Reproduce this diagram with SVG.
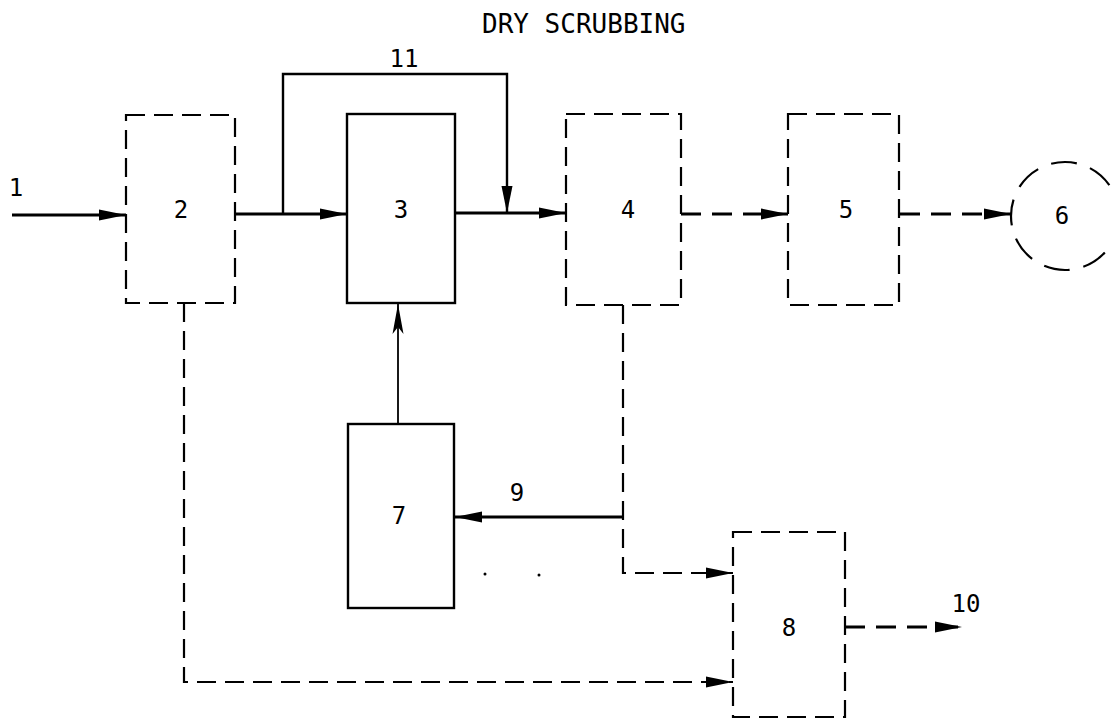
<svg xmlns="http://www.w3.org/2000/svg" width="1112" height="720" viewBox="0 0 1112 720">
<style>
.solid{fill:none;stroke:#000;stroke-width:2.4}
.dash{fill:none;stroke:#000;stroke-width:2.2;stroke-dasharray:19 9}
.flow{fill:none;stroke:#000;stroke-width:3.2}
.flowd{fill:none;stroke:#000;stroke-width:2.8;stroke-dasharray:20 11}
.thin{fill:none;stroke:#000;stroke-width:1.8}
.lbl{font-family:"DejaVu Sans Mono","Liberation Mono",monospace;font-size:24px;fill:#000;text-anchor:middle}
.title{font-family:"DejaVu Sans Mono","Liberation Mono",monospace;font-size:26px;fill:#000}
</style>
<defs>
<marker id="ah" markerUnits="userSpaceOnUse" markerWidth="30" markerHeight="14" refX="27" refY="6" orient="auto">
<path d="M0,0.5 L27,6 L0,11.5 Z" fill="#000"/>
</marker>
<marker id="ah2" markerUnits="userSpaceOnUse" markerWidth="34" markerHeight="14" refX="30" refY="6" orient="auto">
<path d="M0,0.5 L30,6 L0,11.5 L7,6 Z" fill="#000"/>
</marker>
</defs>
<rect width="1112" height="720" fill="#fff"/>
<text class="title" x="482" y="33">DRY SCRUBBING</text>
<g id="connectors">
<line class="flow" x1="12" y1="215" x2="126" y2="215" marker-end="url(#ah)"/>
<text class="lbl" x="16" y="196">1</text>
<line class="flow" x1="235" y1="214" x2="347" y2="214" marker-end="url(#ah)"/>
<polyline class="solid" points="283,214 283,74 507,74 507,213" marker-end="url(#ah)"/>
<text class="lbl" x="404" y="67">11</text>
<line class="flow" x1="455" y1="213" x2="566" y2="213" marker-end="url(#ah)"/>
<line class="flowd" x1="681" y1="214" x2="788" y2="214" marker-end="url(#ah)"/>
<line class="flowd" x1="900" y1="214" x2="1011" y2="214" marker-end="url(#ah)"/>
<line class="thin" x1="398" y1="424" x2="398" y2="304" marker-end="url(#ah2)"/>
<polyline class="dash" points="623,305 623,573 733,573" marker-end="url(#ah)"/>
<line class="flow" x1="623" y1="517" x2="455" y2="517" marker-end="url(#ah)"/>
<text class="lbl" x="517" y="501">9</text>
<polyline class="dash" points="184,303 184,682 733,682" marker-end="url(#ah)"/>
<line class="flowd" x1="845" y1="627" x2="962" y2="627" marker-end="url(#ah)"/>
<text class="lbl" x="966" y="612">10</text>
<circle cx="485" cy="574" r="1.5" fill="#000"/>
<circle cx="539" cy="575" r="1.5" fill="#000"/>
</g>
<g id="n2"><rect class="dash" x="126" y="115" width="109" height="188"/><text class="lbl" x="181" y="218">2</text></g>
<g id="n3"><rect class="solid" x="347" y="114" width="108" height="189"/><text class="lbl" x="401" y="218">3</text></g>
<g id="n4"><rect class="dash" x="566" y="114" width="115" height="191"/><text class="lbl" x="628" y="218">4</text></g>
<g id="n5"><rect class="dash" x="788" y="114" width="111" height="191"/><text class="lbl" x="846" y="218">5</text></g>
<g id="n6"><circle class="dash" cx="1065" cy="216" r="54" style="stroke-dasharray:26 14"/><text class="lbl" x="1062" y="224">6</text></g>
<g id="n7"><rect class="solid" x="348" y="424" width="106" height="184"/><text class="lbl" x="399" y="524">7</text></g>
<g id="n8"><rect class="dash" x="733" y="532" width="112" height="185"/><text class="lbl" x="789" y="636">8</text></g>
</svg>
